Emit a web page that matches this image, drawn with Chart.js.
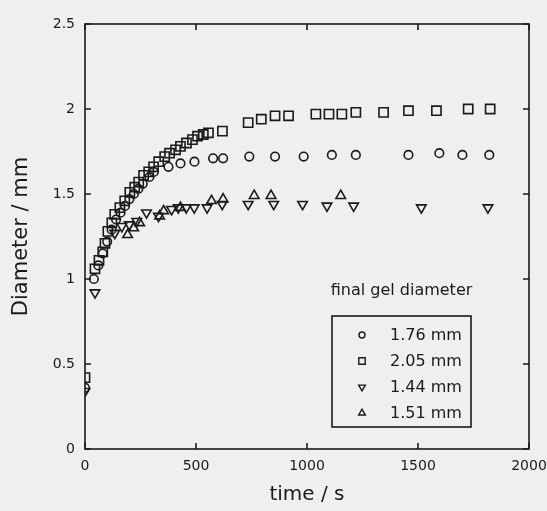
<!DOCTYPE html>
<html>
<head>
<meta charset="utf-8">
<script src="https://cdn.jsdelivr.net/npm/chart.js@4"></script>
<style>
html,body{margin:0;padding:0;background:#efefef;}
#wrap{width:547px;height:511px;}
</style>
</head>
<body>
<div id="wrap"><canvas id="chartGel"></canvas></div>
<script>
// ------------------------------------------------------------
// data
// ------------------------------------------------------------
const seriesLabels=['1.76 mm','2.05 mm','1.44 mm','1.51 mm'];
const xTicks=[0,500,1000,1500,2000];
const yTicks=[0,0.5,1,1.5,2,2.5];

const tCircle=[0,40,60,80,100,120,140,160,180,200,220,240,260,290,310,376,430,493,577,622,740,856,985,1112,1220,1457,1596,1700,1821];
const dCircle=[0.36,1.00,1.08,1.15,1.22,1.29,1.35,1.39,1.43,1.47,1.50,1.53,1.56,1.60,1.63,1.66,1.68,1.69,1.71,1.71,1.72,1.72,1.72,1.73,1.73,1.73,1.74,1.73,1.73];

const tSquare=[0,45,63,80,90,103,121,134,157,179,202,224,242,264,287,309,332,359,381,408,430,457,484,507,533,556,619,735,794,856,917,1040,1099,1157,1220,1345,1457,1583,1726,1825];
const dSquare=[0.42,1.06,1.11,1.16,1.21,1.28,1.33,1.38,1.42,1.46,1.51,1.54,1.57,1.61,1.63,1.66,1.69,1.72,1.74,1.76,1.78,1.80,1.82,1.84,1.85,1.86,1.87,1.92,1.94,1.96,1.96,1.97,1.97,1.97,1.98,1.98,1.99,1.99,2.00,2.00];

const tDown=[0,45,134,166,200,233,277,331,390,420,456,492,550,618,735,850,980,1090,1210,1515,1815];
const dDown=[0.34,0.92,1.27,1.31,1.32,1.34,1.39,1.37,1.41,1.42,1.42,1.42,1.42,1.44,1.44,1.44,1.44,1.43,1.43,1.42,1.42];

const tUp=[192,219,246,336,354,430,570,622,762,838,1152];
const dUp=[1.26,1.30,1.33,1.37,1.40,1.42,1.46,1.47,1.49,1.49,1.49];

const INK='#1a1a1a';
const FONT="'DejaVu Sans',sans-serif";
const pts=(xs,ys)=>xs.map((x,i)=>({x:x,y:ys[i]}));

// frame with inward ticks on all four sides
const framePlugin={
  id:'frame',
  afterDraw(chart){
    const {ctx,chartArea:a,scales:{x,y}}=chart;
    const len=6;
    ctx.save();
    ctx.strokeStyle=INK;ctx.lineWidth=1.6;
    ctx.strokeRect(a.left,a.top,a.right-a.left,a.bottom-a.top);
    ctx.beginPath();
    xTicks.forEach(v=>{
      const px=x.getPixelForValue(v);
      ctx.moveTo(px,a.bottom);ctx.lineTo(px,a.bottom-len);
      ctx.moveTo(px,a.top);ctx.lineTo(px,a.top+len);
    });
    yTicks.forEach(v=>{
      const py=y.getPixelForValue(v);
      ctx.moveTo(a.left,py);ctx.lineTo(a.left+len,py);
      ctx.moveTo(a.right,py);ctx.lineTo(a.right-len,py);
    });
    ctx.stroke();
    ctx.restore();
  }
};

// boxed legend inside the plot, with a heading above it
const gelLegend={
  id:'gelLegend',
  afterDraw(chart){
    const ctx=chart.ctx;
    const bx=332,by=316,bw=139,bh=111;
    ctx.save();
    ctx.fillStyle=INK;ctx.strokeStyle=INK;
    ctx.font="16px "+FONT;
    ctx.textAlign='center';ctx.textBaseline='middle';
    ctx.fillText('final gel diameter',bx+bw/2,291);
    ctx.lineWidth=1.6;
    ctx.strokeRect(bx,by,bw,bh);
    ctx.textAlign='left';
    chart.data.datasets.forEach((ds,i)=>{
      const ry=by+19+i*26;
      ctx.fillStyle='rgba(0,0,0,0)';
      ctx.lineWidth=1.4;
      Chart.helpers.drawPoint(ctx,{pointStyle:ds.pointStyle,radius:ds.pointRadius*0.7,rotation:ds.rotation||0,borderWidth:1.4},bx+30,ry);
      ctx.fillStyle=INK;
      ctx.fillText(ds.label,bx+58,ry+1);
    });
    ctx.restore();
  }
};

const mk=(label,data,style,r,rot)=>({
  label:label,data:data,pointStyle:style,rotation:rot,
  pointRadius:r,pointHoverRadius:r,pointBorderWidth:1.6,
  borderColor:INK,backgroundColor:'rgba(0,0,0,0)',
  pointBorderColor:INK,pointBackgroundColor:'rgba(0,0,0,0)',showLine:false
});

new Chart(document.getElementById('chartGel'),{
  type:'scatter',
  data:{
    datasets:[
      mk(seriesLabels[0],pts(tCircle,dCircle),'circle',4.3,0),
      mk(seriesLabels[1],pts(tSquare,dSquare),'rect',6.5,0),
      mk(seriesLabels[2],pts(tDown,dDown),'triangle',5.5,180),
      mk(seriesLabels[3],pts(tUp,dUp),'triangle',5.5,0)
    ]
  },
  options:{
    responsive:true,maintainAspectRatio:false,animation:false,
    layout:{padding:{top:24,right:18,left:0,bottom:0}},
    plugins:{legend:{display:false},tooltip:{enabled:false}},
    scales:{
      x:{
        type:'linear',min:0,max:2000,
        afterFit:s=>{s.height=62;s.paddingLeft=0;s.paddingRight=0;},
        afterBuildTicks:s=>{s.ticks=xTicks.map(v=>({value:v}));},
        grid:{display:false,drawTicks:false},border:{display:false},
        ticks:{color:INK,padding:9,maxRotation:0,font:{family:FONT,size:14},callback:v=>String(v)},
        title:{display:true,text:'time / s',color:INK,font:{family:FONT,size:20},padding:{top:0,bottom:4}}
      },
      y:{
        min:0,max:2.5,
        afterFit:s=>{s.width=85;},
        afterBuildTicks:s=>{s.ticks=yTicks.map(v=>({value:v}));},
        grid:{display:false,drawTicks:false},border:{display:false},
        ticks:{color:INK,padding:10,font:{family:FONT,size:14},callback:v=>String(v)},
        title:{display:true,text:'Diameter / mm',color:INK,font:{family:FONT,size:21},padding:{top:9,bottom:0}}
      }
    }
  },
  plugins:[framePlugin,gelLegend]
});
</script>
</body>
</html>
